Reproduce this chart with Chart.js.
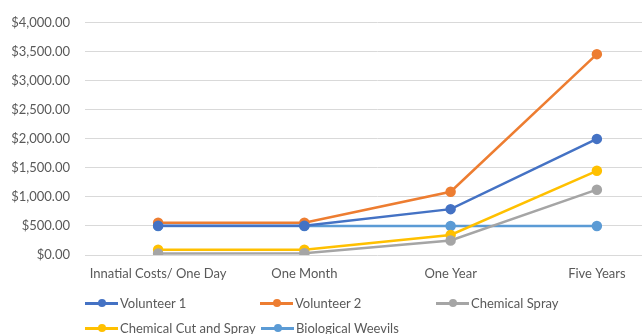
<!DOCTYPE html>
<html>
<head>
<meta charset="utf-8">
<script src="https://cdn.jsdelivr.net/npm/chart.js@4"></script>
<style>
  html, body { margin: 0; padding: 0; background: #fff; overflow: hidden; }
  #wrap { position: relative; width: 642px; height: 334px; overflow: hidden; }
  #wrap canvas { position: absolute; left: 0; top: 0; }
  .lg { position: absolute; display: flex; align-items: center; font: 13px Lato, sans-serif; line-height: 16px; color: #595959; white-space: nowrap; }
  .lg .mk { position: relative; width: 33px; height: 3px; margin-right: 2px; }
  .lg .mk i { position: absolute; left: 12.5px; top: -2.5px; width: 8px; height: 8px; border-radius: 50%; }
</style>
</head>
<body>
<div id="wrap">
  <canvas id="myChart" width="700" height="334"></canvas>
</div>
<script>
const categories = ["Innatial Costs/ One Day", "One Month", "One Year", "Five Years"];
const seriesNames = ["Volunteer 1", "Volunteer 2", "Chemical Spray", "Chemical Cut and Spray", "Biological Weevils"];
const volunteer1 = [505, 505, 790, 2000];
const volunteer2 = [555, 555, 1090, 3460];
const chemicalSpray = [25, 30, 250, 1125];
const chemicalCutSpray = [90, 90, 345, 1450];
const biologicalWeevils = [500, 500, 500, 500];
const yTicks = [0, 500, 1000, 1500, 2000, 2500, 3000, 3500, 4000];

const colors = ["#4472C4", "#ED7D31", "#A5A5A5", "#FFC000", "#5B9BD5"];
const allValues = [volunteer1, volunteer2, chemicalSpray, chemicalCutSpray, biologicalWeevils];
// legend placement, as in the original
const legendPos = [[85, 295], [260, 295], [436, 295], [85, 320], [261, 320]];

const fmt = v => "$" + v.toLocaleString("en-US", { minimumFractionDigits: 2, maximumFractionDigits: 2 });

const ctx = document.getElementById("myChart").getContext("2d");
const chart = new Chart(ctx, {
  type: "line",
  data: {
    labels: categories,
    datasets: seriesNames.map((name, i) => ({
      label: name,
      data: allValues[i],
      borderColor: colors[i],
      backgroundColor: colors[i],
      borderWidth: 2.5,
      pointRadius: 4,
      pointHoverRadius: 4,
      tension: 0,
    })),
  },
  options: {
    responsive: false,
    animation: false,
    layout: { padding: { top: 9, right: 30 } },
    plugins: { legend: { display: false }, tooltip: { enabled: false } },
    scales: {
      x: {
        offset: true,
        grid: { display: false },
        border: { display: false },
        ticks: { color: "#595959", font: { family: "Lato", size: 13 }, padding: 3, maxRotation: 0 },
        afterFit: s => { s.height = 79; },
      },
      y: {
        min: 0,
        max: 4000,
        afterBuildTicks: s => { s.ticks = yTicks.map(v => ({ value: v })); },
        grid: { color: "#d9d9d9", drawTicks: false },
        border: { display: false },
        ticks: { color: "#595959", font: { family: "Lato", size: 13 }, padding: 15, callback: v => fmt(v) },
        afterFit: s => { s.width = 85; },
      },
    },
  },
});

// HTML legend like the Excel one
const wrap = document.getElementById("wrap");
chart.data.datasets.forEach((ds, i) => {
  const el = document.createElement("div");
  el.className = "lg";
  el.style.left = legendPos[i][0] + "px";
  el.style.top = legendPos[i][1] + "px";
  el.innerHTML = '<span class="mk" style="background:' + ds.borderColor + '"><i style="background:' + ds.borderColor + '"></i></span>' + ds.label;
  wrap.appendChild(el);
});
</script>
</body>
</html>
